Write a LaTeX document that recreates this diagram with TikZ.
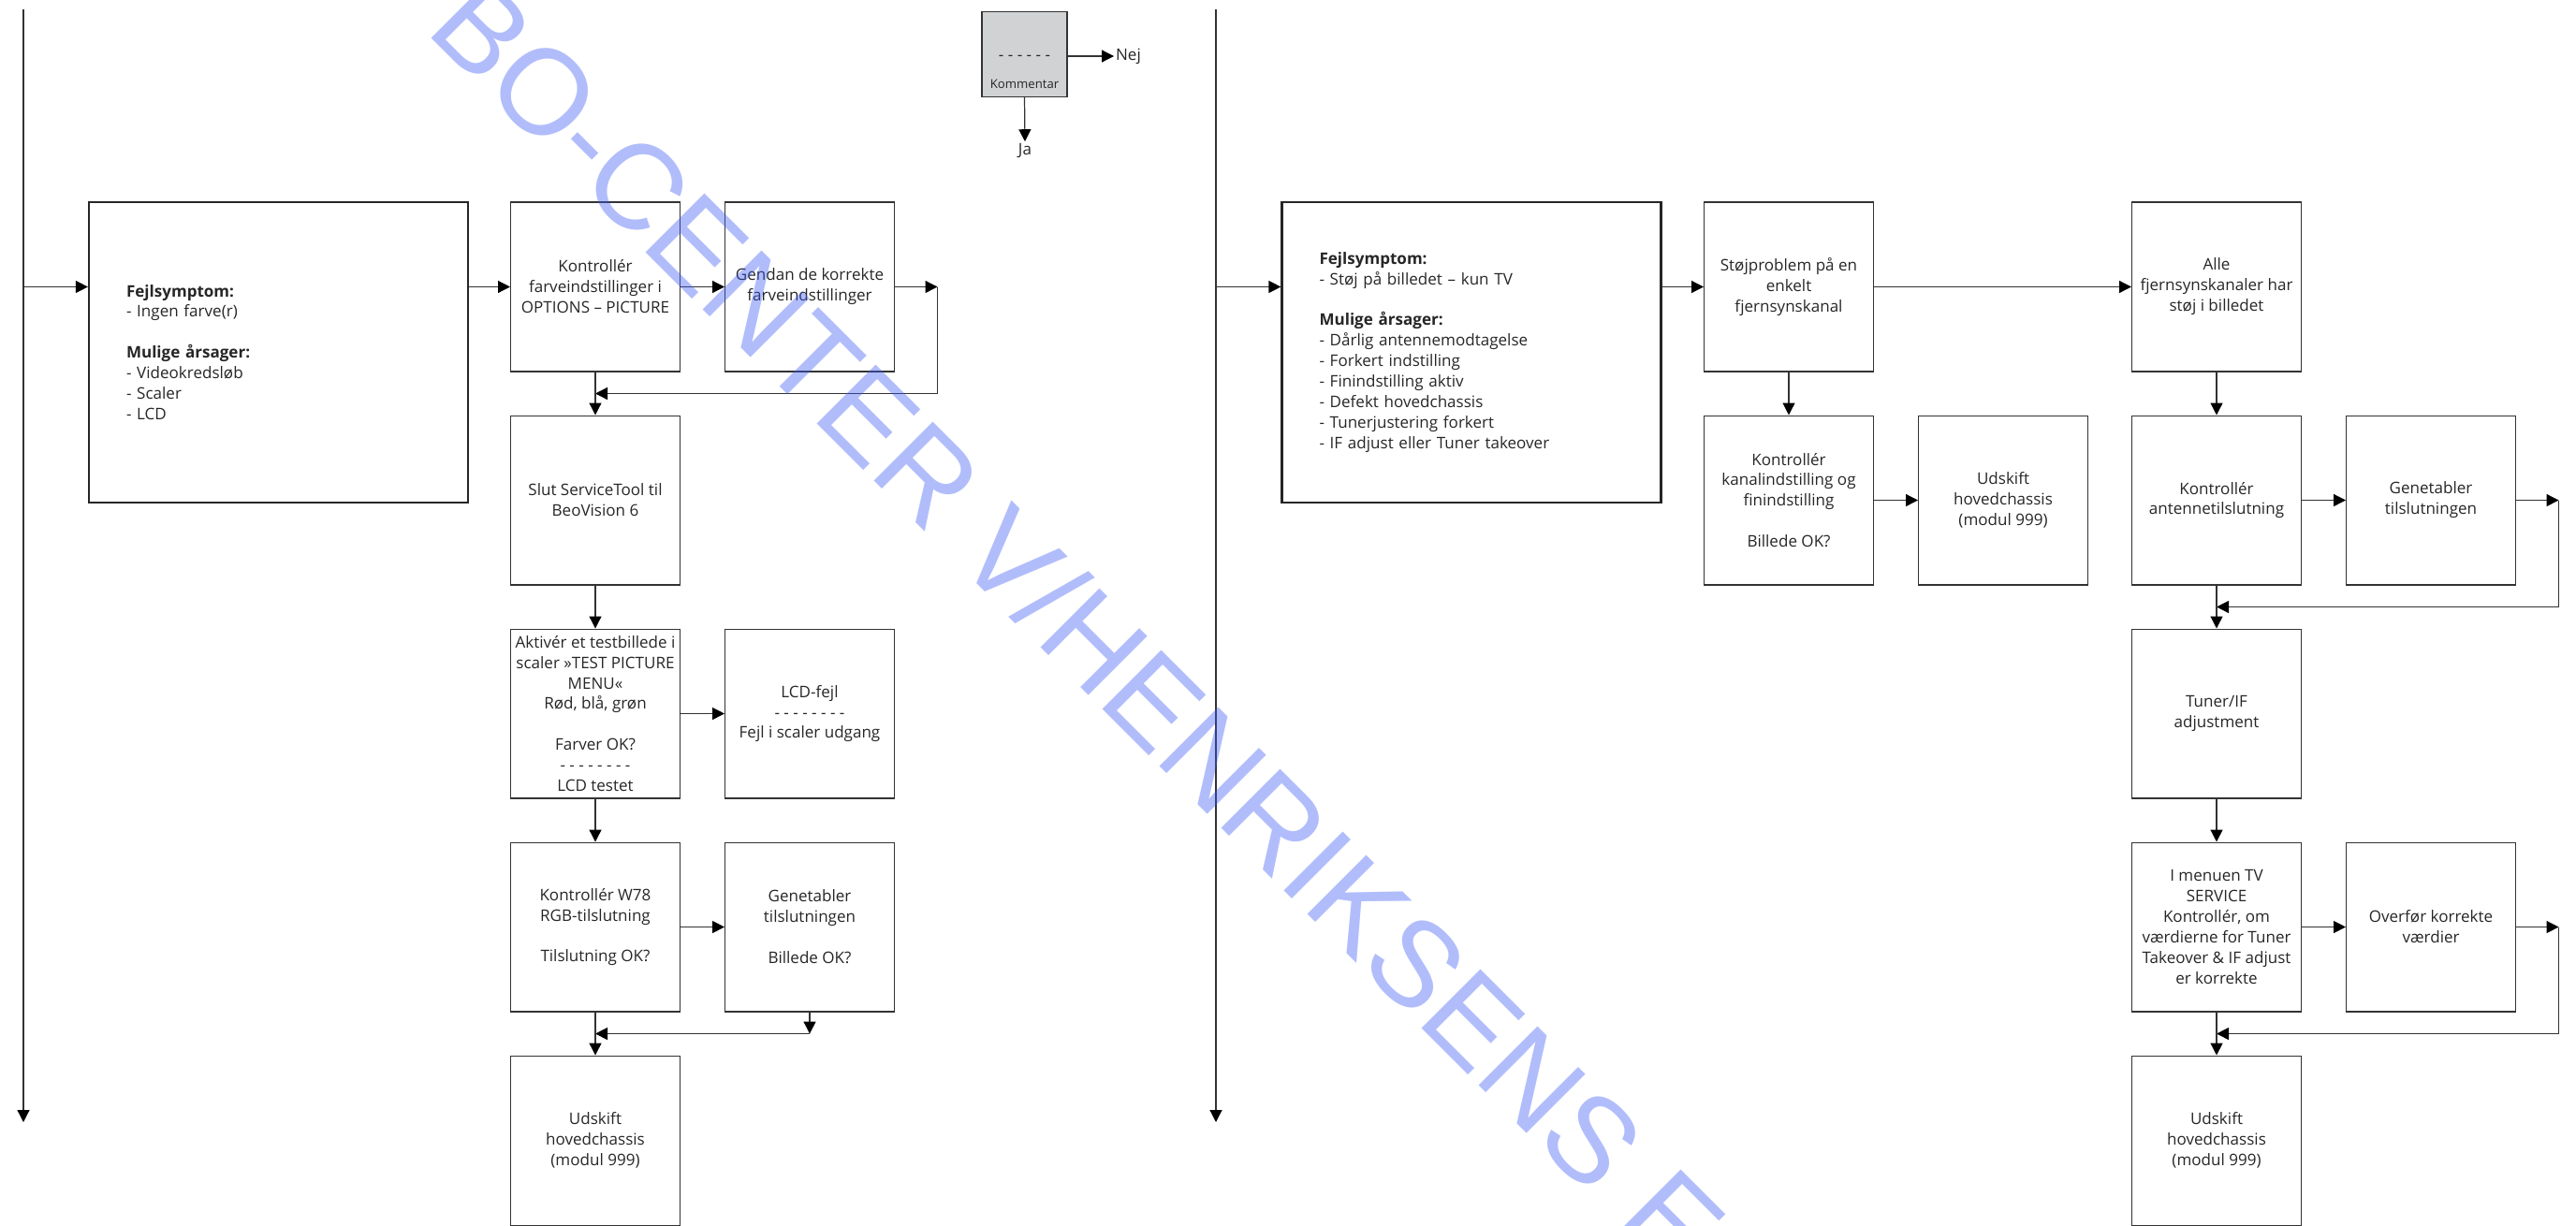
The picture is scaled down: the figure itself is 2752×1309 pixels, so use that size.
\documentclass[tikz,border=0pt]{standalone}
\usepackage{fontspec}
\setmainfont{Open Sans}
\newfontfamily\wmfont{Liberation Sans}
\usetikzlibrary{arrows.meta,positioning,calc}
\definecolor{wmblue}{RGB}{60,90,245}
\definecolor{komgray}{RGB}{209,210,212}

\begin{document}
\begin{tikzpicture}[
    x = 0.02cm, y = -0.02cm,
    every node/.style = {align=center, text=black!85, font=\fontsize{9.7}{12.5}\selectfont},
    box/.style = {draw=black!80, line width=0.6pt, minimum width=3.62cm, minimum height=3.62cm, inner sep=0pt},
    symbox/.style = {draw=black!85, line width=1.3pt, minimum width=8.1cm, minimum height=6.42cm,
                     text width=6.5cm, align=left, inner xsep=0.8cm},
    kombox/.style = {draw=black!80, line width=0.6pt, fill=komgray, minimum size=1.82cm, inner sep=0pt},
    lbl/.style = {inner sep=1pt},
    arr/.style = {draw=black!80, line width=0.7pt, -{Triangle[length=0.26cm, width=0.26cm, color=black]}},
    wm/.style = {text=wmblue, opacity=0.4, rotate=-45, anchor=base west, inner sep=0pt,
                 font=\wmfont\fontsize{73.7}{80}\selectfont},
    node distance = 0.92cm and 0.94cm
  ]
  \useasboundingbox (0,0) rectangle (2752,1309);

  \node [kombox] (kom) at (1094.5,58) {};
  \node [lbl] (komdash) at (1094.5,62) {- - - - - -};
  \node [lbl, font=\fontsize{7.5}{9}\selectfont] (komtxt) at (1094.5,90) {Kommentar};
  \node [lbl, anchor=west] (nej) at (1190,60) {Nej};
  \node [lbl] (ja) at (1095,161) {Ja};
  \draw [arr] (kom.east |- nej) -- (nej.west);
  \draw [arr] (kom.south) -- (ja.north);

  \coordinate (top1) at (25,10);
  \coordinate (end1) at (25,1199);
  \coordinate (in1) at (25,306.5);
  \node [symbox] (sym1) at (297.5,376.5) {\textbf{Fejlsymptom:}\\- Ingen farve(r)\\[12.5pt]
    \textbf{Mulige årsager:}\\- Videokredsløb\\- Scaler\\- LCD};
  \node [box] (k1) at (636,306.5) {Kontrollér\\farveindstillinger i\\OPTIONS – PICTURE};
  \node [box, right=of k1] (gendan) {Gendan de korrekte\\farveindstillinger};
  \node [box, below=of k1] (slut) {Slut ServiceTool til\\BeoVision 6};
  \node [box, below=of slut] (aktiver) {Aktivér et testbillede i\\scaler »TEST PICTURE\\MENU«\\Rød, blå, grøn\\[12.5pt]
    Farver OK?\\- - - - - - - -\\LCD testet};
  \node [box, right=of aktiver] (lcd) {LCD-fejl\\- - - - - - - -\\Fejl i scaler udgang};
  \node [box, below=of aktiver] (w78) {Kontrollér W78\\RGB-tilslutning\\[12.5pt]Tilslutning OK?};
  \node [box, right=of w78] (genet1) {Genetabler\\tilslutningen\\[12.5pt]Billede OK?};
  \node [box, below=of w78] (udsk1) {Udskift\\hovedchassis\\(modul 999)};

  \draw [arr] (top1) -- (end1);
  \draw [arr] (in1) -- (in1 -| sym1.west);
  \draw [arr] (sym1.east |- k1) -- (k1.west);
  \draw [arr] (k1) -- (gendan);
  \coordinate (j1) at ($(k1.south)!0.5!(slut.north)$);
  \draw [arr] (gendan.east) -- ++(45.5,0) coordinate (g1);
  \draw [arr] (g1) |- (j1);
  \draw [arr] (k1) -- (slut);
  \draw [arr] (slut) -- (aktiver);
  \draw [arr] (aktiver) -- (lcd);
  \draw [arr] (aktiver) -- (w78);
  \draw [arr] (w78) -- (genet1);
  \coordinate (j2) at ($(w78.south)!0.5!(udsk1.north)$);
  \draw [arr] (genet1.south) -- (genet1.south |- j2) coordinate (g2);
  \draw [arr] (g2) -- (j2);
  \draw [arr] (w78) -- (udsk1);

  \coordinate (top2) at (1299,10);
  \coordinate (end2) at (1299,1199);
  \coordinate (in2) at (1299,306.5);
  \node [symbox] (sym2) at (1572,376.5) {\textbf{Fejlsymptom:}\\- Støj på billedet – kun TV\\[12.5pt]
    \textbf{Mulige årsager:}\\- Dårlig antennemodtagelse\\- Forkert indstilling\\- Finindstilling aktiv\\
    - Defekt hovedchassis\\- Tunerjustering forkert\\- IF adjust eller Tuner takeover};
  \node [box] (stoj) at (1911,306.5) {Støjproblem på en\\enkelt\\fjernsynskanal};
  \node [box] (alle) at (2368,306.5) {Alle\\fjernsynskanaler har\\støj i billedet};
  \node [box, below=of stoj] (kanal) {Kontrollér\\kanalindstilling og\\finindstilling\\[12.5pt]Billede OK?};
  \node [box, right=of kanal] (udsk2) {Udskift\\hovedchassis\\(modul 999)};
  \node [box, below=of alle] (antenne) {Kontrollér\\antennetilslutning};
  \node [box, right=of antenne] (genet2) {Genetabler\\tilslutningen};
  \node [box, below=of antenne] (tuner) {Tuner/IF\\adjustment};
  \node [box, below=of tuner] (menu) {I menuen TV\\SERVICE\\Kontrollér, om\\værdierne for Tuner\\Takeover \& IF adjust\\er korrekte};
  \node [box, right=of menu] (overfor) {Overfør korrekte\\værdier};
  \node [box, below=of menu] (udsk3) {Udskift\\hovedchassis\\(modul 999)};

  \draw [arr] (top2) -- (end2);
  \draw [arr] (in2) -- (in2 -| sym2.west);
  \draw [arr] (sym2.east |- stoj) -- (stoj.west);
  \draw [arr] (stoj) -- (alle);
  \draw [arr] (stoj) -- (kanal);
  \draw [arr] (kanal) -- (udsk2);
  \draw [arr] (alle) -- (antenne);
  \draw [arr] (antenne) -- (genet2);
  \coordinate (j3) at ($(antenne.south)!0.5!(tuner.north)$);
  \draw [arr] (genet2.east) -- ++(45.5,0) coordinate (g3);
  \draw [arr] (g3) |- (j3);
  \draw [arr] (antenne) -- (tuner);
  \draw [arr] (tuner) -- (menu);
  \draw [arr] (menu) -- (overfor);
  \coordinate (j4) at ($(menu.south)!0.5!(udsk3.north)$);
  \draw [arr] (overfor.east) -- ++(45.5,0) coordinate (g4);
  \draw [arr] (g4) |- (j4);
  \draw [arr] (menu) -- (udsk3);

  \node [wm] (mark) at (453,33) {BO-CENTER V/HENRIKSENS E};
\end{tikzpicture}
\end{document}
